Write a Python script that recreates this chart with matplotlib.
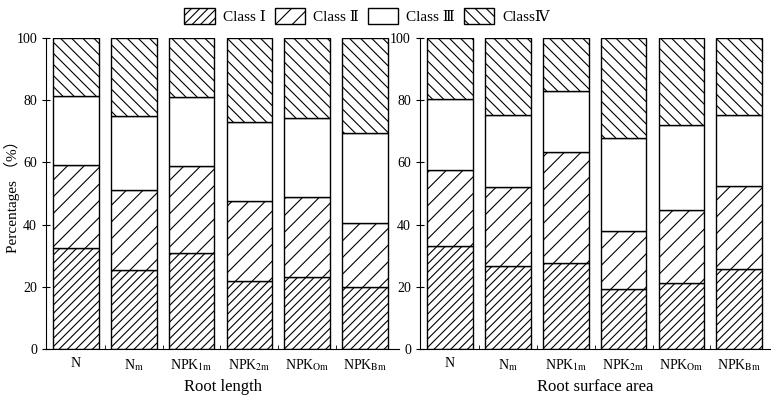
import numpy as np
import matplotlib

matplotlib.use('Agg')
import matplotlib.pyplot as plt
from matplotlib.patches import Patch

plt.rcParams['font.family'] = ['Liberation Serif', 'DejaVu Serif']
plt.rcParams['mathtext.fontset'] = 'stix'
plt.rcParams['hatch.linewidth'] = 0.8

treatments = ['N', r'N$_\mathrm{m}$', r'NPK$_\mathrm{1m}$', r'NPK$_\mathrm{2m}$',
              r'NPK$_\mathrm{Om}$', r'NPK$_\mathrm{Bm}$']
classes = ['Class Ⅰ', 'Class Ⅱ', 'Class Ⅲ', 'ClassⅣ']

# share of each class (%)
length_i = [32.5, 25.5, 31.0, 22.0, 23.0, 20.0]
length_ii = [26.7, 25.5, 28.0, 25.6, 26.0, 20.5]
length_iii = [22.3, 24.0, 22.0, 25.4, 25.3, 29.0]
length_iv = [18.5, 25.0, 19.0, 27.0, 25.7, 30.5]

area_i = [33.0, 26.7, 27.6, 19.3, 21.3, 25.7]
area_ii = [24.5, 25.3, 35.7, 18.7, 23.4, 26.6]
area_iii = [23.0, 23.3, 19.7, 30.0, 27.3, 23.0]
area_iv = [19.5, 24.7, 17.0, 32.0, 28.0, 24.7]

hatches = ['////', '//', '', '\\\\\\']

fig = plt.figure(figsize=(7.71, 3.99), dpi=100)
ax1 = fig.add_axes([0.0597, 0.1253, 0.4578, 0.7795])
ax2 = fig.add_axes([0.5447, 0.1253, 0.4540, 0.7795])

x = np.arange(len(treatments))


def draw(ax, parts, xlabel, right_lim):
    bottom = np.zeros(len(x))
    for vals, h in zip(parts, hatches):
        ax.bar(x, vals, 0.79, bottom=bottom, color='white', edgecolor='black',
               linewidth=1.0, hatch=h)
        bottom += np.array(vals)
    ax.set_xlim(-0.52, right_lim)
    ax.set_ylim(0, 100)
    ax.set_yticks([0, 20, 40, 60, 80, 100])
    ax.set_xticks(x)
    ax.set_xticklabels(treatments, fontsize=10)
    ax.set_xticks(x[:-1] + 0.5, minor=True)
    ax.tick_params(axis='x', which='major', length=0, pad=6)
    ax.tick_params(axis='x', which='minor', direction='in', length=3)
    ax.tick_params(axis='y', direction='inout', length=6, labelsize=10)
    ax.spines['top'].set_visible(False)
    ax.spines['right'].set_visible(False)
    ax.set_xlabel(xlabel, fontsize=12, labelpad=4)


draw(ax1, [length_i, length_ii, length_iii, length_iv], 'Root length', 5.59)
draw(ax2, [area_i, area_ii, area_iii, area_iv], 'Root surface area', 5.53)
ax1.set_ylabel('Percentages （%）', fontsize=11,
               family=['Liberation Serif', 'Noto Sans CJK SC'])
ax1.yaxis.set_label_coords(-0.073, 0.5)

handles = [Patch(facecolor='white', edgecolor='black', hatch=h) for h in hatches]
fig.legend(handles, classes, loc='upper center', bbox_to_anchor=(0.476, 1.015),
           ncol=4, frameon=False, fontsize=11, handlelength=2.0, handleheight=1.3,
           columnspacing=0.6, handletextpad=0.5)

fig.savefig('out.png', dpi=100)
